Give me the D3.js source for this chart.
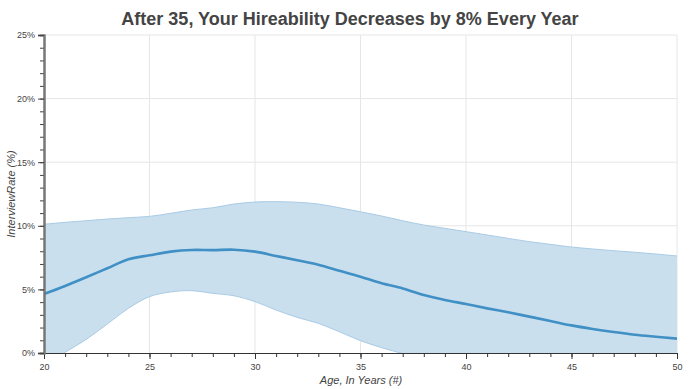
<!DOCTYPE html>
<html><head><meta charset="utf-8">
<script src="https://cdn.jsdelivr.net/npm/d3@7"></script>
<style>
body{margin:0;background:#fff;}
svg text{font-family:"Liberation Sans",Arial,Helvetica,sans-serif;}
</style></head>
<body><svg id="c" width="700" height="389"></svg>
<script>
const ages =  [20,21,22,23,24,25,26,27,28,29,30,31,32,33,34,35,36,37,38,39,40,41,42,43,44,45,46,47,48,49,50];
const meanRate = [4.64,5.27,5.95,6.66,7.37,7.68,7.97,8.10,8.09,8.12,7.97,7.63,7.29,6.94,6.47,6.00,5.48,5.08,4.56,4.17,3.85,3.51,3.20,2.86,2.52,2.17,1.89,1.65,1.44,1.28,1.13];
const upperRate = [10.12,10.27,10.40,10.53,10.64,10.74,10.98,11.24,11.42,11.71,11.87,11.90,11.85,11.71,11.42,11.10,10.77,10.40,10.06,9.80,9.54,9.28,9.01,8.75,8.54,8.33,8.18,8.04,7.92,7.78,7.63];
const lowerRate = [-1.0,0.05,1.07,2.28,3.51,4.43,4.80,4.90,4.69,4.50,4.04,3.38,2.80,2.33,1.67,0.97,0.42,-0.05,-0.6,-1.1,-1.6,-2.0,-2.4,-2.8,-3.1,-3.4,-3.7,-3.9,-4.1,-4.3,-4.5];
const xTicks = [20,25,30,35,40,45,50];
const yTicks = [0,5,10,15,20,25];
const title = "After 35, Your Hireability Decreases by 8% Every Year";
const xLabel = "Age, In Years (#)";
const yLabel = "InterviewRate (%)";

const svg = d3.select("#c");
const L=44, R=677, T=35, B=353;
const x = d3.scaleLinear().domain([20,50]).range([L,R]);
const y = d3.scaleLinear().domain([0,25]).range([B,T]);

// grid
const g = svg.append("g");
g.selectAll(".vg").data(xTicks.slice(1)).enter().append("line")
 .attr("x1",d=>x(d)).attr("x2",d=>x(d)).attr("y1",T).attr("y2",B)
 .attr("stroke","#e6e6e6").attr("stroke-width",1);
g.selectAll(".hg").data(yTicks.slice(1)).enter().append("line")
 .attr("x1",L).attr("x2",R).attr("y1",d=>y(d)).attr("y2",d=>y(d))
 .attr("stroke","#e6e6e6").attr("stroke-width",1);

svg.append("clipPath").attr("id","clip").append("rect")
 .attr("x",L).attr("y",T).attr("width",R-L).attr("height",B-T);

const data = ages.map((a,i)=>({a,m:meanRate[i],u:upperRate[i],l:lowerRate[i]}));
const curve = d3.curveCatmullRom.alpha(0.5);
const plot = svg.append("g").attr("clip-path","url(#clip)");
plot.append("path").datum(data)
 .attr("d",d3.area().x(d=>x(d.a)).y0(d=>y(d.l)).y1(d=>y(d.u)).curve(curve))
 .attr("fill","#c9dfee");
plot.append("path").datum(data)
 .attr("d",d3.line().x(d=>x(d.a)).y(d=>y(d.u)).curve(curve))
 .attr("fill","none").attr("stroke","#a9cbe5").attr("stroke-width",1);
plot.append("path").datum(data)
 .attr("d",d3.line().x(d=>x(d.a)).y(d=>y(d.l)).curve(curve))
 .attr("fill","none").attr("stroke","#a9cbe5").attr("stroke-width",1);
plot.append("path").datum(data)
 .attr("d",d3.line().x(d=>x(d.a)).y(d=>y(d.m)).curve(curve))
 .attr("fill","none").attr("stroke","#4090c5").attr("stroke-width",2.6);

// axes
const xMinor = d3.range(20,51,1);
const yMinor = d3.range(0,26,1);
const xa = svg.append("g").attr("transform",`translate(0,${B})`);
xa.call(d3.axisBottom(x).tickValues(xMinor).tickSize(4).tickFormat(""));
xa.append("g").call(d3.axisBottom(x).tickValues(xTicks).tickSize(6).tickFormat(d3.format("d")));
xa.selectAll("path.domain").attr("stroke","#333");
xa.selectAll("line").attr("stroke","#333");
xa.selectAll("text").attr("font-size",9).attr("fill","#444").attr("dy","0.9em");

const ya = svg.append("g").attr("transform",`translate(${L},0)`);
ya.call(d3.axisLeft(y).tickValues(yMinor).tickSize(4).tickFormat(""));
ya.append("g").call(d3.axisLeft(y).tickValues(yTicks).tickSize(6).tickFormat(d=>d+"%"));
ya.selectAll("path.domain").attr("stroke","#777").attr("stroke-width",2);
ya.selectAll("line").attr("stroke","#444");
ya.selectAll("text").attr("font-size",9).attr("fill","#444").attr("x",-9);

// labels
svg.append("text").attr("x",350).attr("y",25).attr("text-anchor","middle")
 .attr("font-size",18).attr("font-weight","bold").attr("fill","#444").text(title);
svg.append("text").attr("x",361).attr("y",384).attr("text-anchor","middle")
 .attr("font-size",11).attr("font-style","italic").attr("fill","#444").text(xLabel);
svg.append("text").attr("transform","translate(15,194) rotate(-90)").attr("text-anchor","middle")
 .attr("font-size",11).attr("font-style","italic").attr("fill","#444").text(yLabel);
</script></body></html>
